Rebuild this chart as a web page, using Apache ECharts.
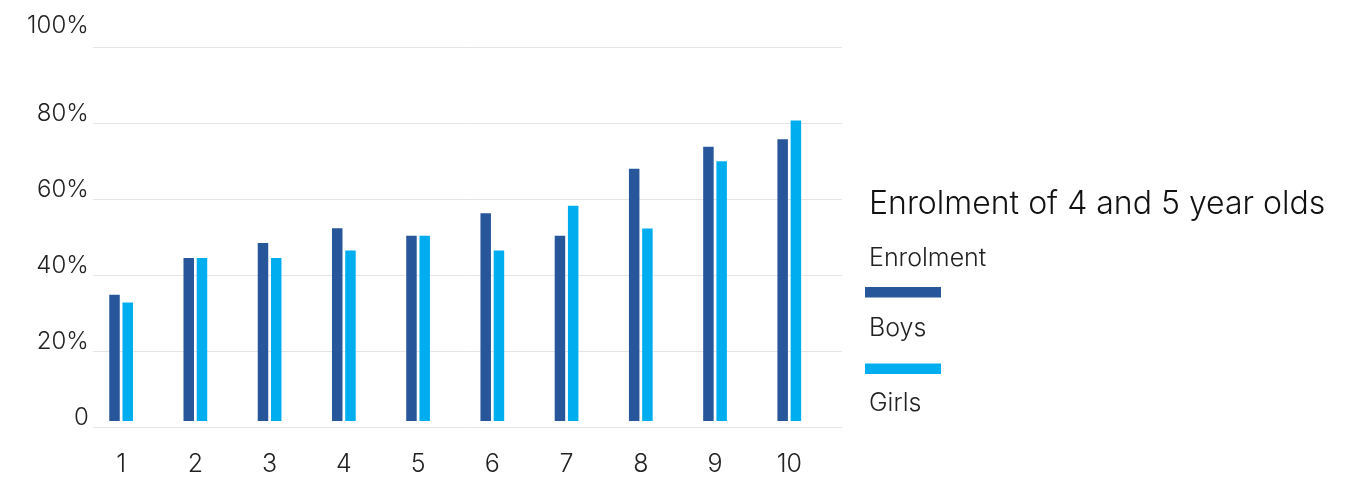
<!DOCTYPE html>
<html>
<head>
<meta charset="utf-8">
<style>
  html, body { margin: 0; padding: 0; background: #ffffff; }
  #chart { width: 1367px; height: 477px; }
</style>
<script src="https://cdn.jsdelivr.net/npm/echarts@6/dist/echarts.min.js"></script>
</head>
<body>
<div id="chart"></div>
<script>
// Enrolment of 4 and 5 year olds, by group (share enrolled, %)
const categories = ['1', '2', '3', '4', '5', '6', '7', '8', '9', '10'];
const boys  = [33.8, 43.6, 47.6, 51.6, 49.6, 55.6, 49.6, 67.5, 73.4, 75.4];
const girls = [31.7, 43.6, 43.6, 45.6, 49.6, 45.6, 57.6, 51.5, 69.5, 80.4];
const yTickLabels = ['0', '20%', '40%', '60%', '80%', '100%'];
const seriesNames = ['Boys', 'Girls'];
const legendTitle = 'Enrolment of 4 and 5 year olds';
const legendSubtitle = 'Enrolment';

const COLOR_BOYS = '#27579a';
const COLOR_GIRLS = '#00aeef';
const TEXT = '#222222';
const FONT = 'Inter, "Liberation Sans", Arial, sans-serif';

const chart = echarts.init(document.getElementById('chart'), null, { renderer: 'canvas' });

const plotTop = 47.3;
const plotBottom = 477 - 427.7;

chart.setOption({
  animation: false,
  backgroundColor: '#ffffff',
  textStyle: { fontFamily: FONT },
  title: {
    text: legendTitle,
    subtext: legendSubtitle,
    left: 869,
    top: 187,
    padding: 0,
    itemGap: 23,
    textStyle: { fontFamily: FONT, fontSize: 32, fontWeight: 350, color: '#111111', lineHeight: 34 },
    subtextStyle: { fontFamily: FONT, fontSize: 25, fontWeight: 300, color: TEXT, lineHeight: 28 }
  },
  legend: {
    orient: 'vertical',
    left: 865,
    top: 287,
    padding: 0,
    itemWidth: 76,
    itemHeight: 10.5,
    itemGap: 66,
    icon: 'rect',
    selectedMode: false,
    data: seriesNames,
    formatter: () => '',
    textStyle: { fontSize: 1, lineHeight: 1 }
  },
  graphic: seriesNames.map((name, i) => ({
    type: 'text',
    left: 869,
    top: [315.5, 391][i],
    style: { text: name, fontFamily: FONT, fontSize: 25, fontWeight: 300, fill: TEXT }
  })),
  grid: [
    // bars and category labels
    { left: 84, width: 742.4, top: plotTop, bottom: plotBottom, containLabel: false },
    // percentage axis and its gridlines
    { left: 92.7, right: 1367 - 842, top: plotTop, bottom: plotBottom, containLabel: false }
  ],
  xAxis: [
    {
      type: 'category',
      gridIndex: 0,
      data: categories,
      axisLine: { show: false },
      axisTick: { show: false },
      axisLabel: { color: TEXT, fontSize: 25, fontWeight: 300, margin: 31, fontFamily: FONT }
    },
    { type: 'value', gridIndex: 1, show: false, min: 0, max: 1 }
  ],
  yAxis: [
    { type: 'value', gridIndex: 0, min: 0, max: 100, interval: 20, show: false },
    {
      type: 'value',
      gridIndex: 1,
      min: 0,
      max: 100,
      interval: 20,
      axisLine: { show: false },
      axisTick: { show: false },
      splitLine: { show: true, lineStyle: { color: '#e5e5e5', width: 1 } },
      axisLabel: {
        color: TEXT,
        fontSize: 24,
        fontWeight: 300,
        fontFamily: FONT,
        margin: 4,
        verticalAlign: 'bottom',
        lineHeight: 20,
        formatter: (v) => {
          const label = yTickLabels[Math.round(v / 20)];
          return v === 100 ? '{top|' + label + '}' : label;
        },
        rich: {
          top: { fontSize: 24, fontWeight: 300, fontFamily: FONT, color: TEXT, lineHeight: 20, padding: [0, 0, 24, 0] }
        }
      }
    }
  ],
  series: [
    {
      name: seriesNames[0],
      type: 'bar',
      xAxisIndex: 0,
      yAxisIndex: 0,
      data: boys,
      barWidth: 10.5,
      barGap: '26%',
      itemStyle: { color: COLOR_BOYS }
    },
    {
      name: seriesNames[1],
      type: 'bar',
      xAxisIndex: 0,
      yAxisIndex: 0,
      data: girls,
      barWidth: 10.5,
      barGap: '26%',
      itemStyle: { color: COLOR_GIRLS }
    }
  ]
});
</script>
</body>
</html>
